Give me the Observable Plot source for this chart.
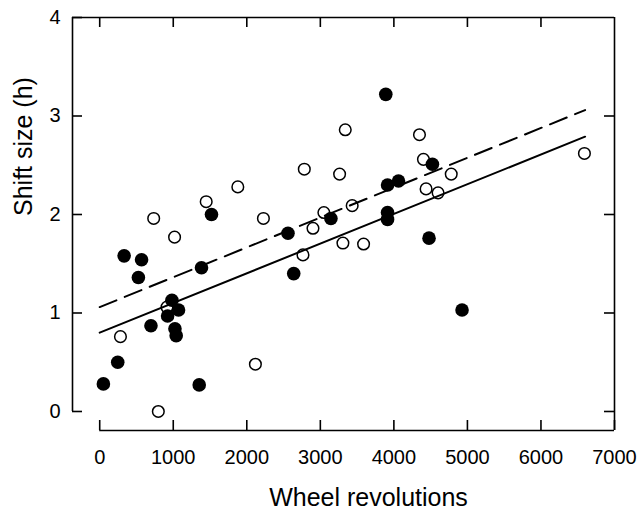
<!DOCTYPE html>
<html>
<head>
<meta charset="utf-8">
<script src="https://cdn.jsdelivr.net/npm/d3@7"></script>
<script src="https://cdn.jsdelivr.net/npm/@observablehq/plot@0.6"></script>
<style>
  html, body { margin: 0; padding: 0; background: #fff; }
  #chart svg { display: block; }
</style>
</head>
<body>
<div id="chart"></div>
<script>
// Filled circles
const filledX = [50, 245, 332, 526, 569, 697, 923, 982, 1072, 1023, 1040, 1353, 1384, 1520, 2560, 2638, 3144, 3890, 3914, 4063, 3914, 3914, 4478, 4524, 4927];
const filledY = [0.28, 0.50, 1.58, 1.36, 1.54, 0.87, 0.97, 1.13, 1.03, 0.84, 0.77, 0.27, 1.46, 2.00, 1.81, 1.40, 1.96, 3.22, 2.30, 2.34, 2.02, 1.95, 1.76, 2.51, 1.03];
// Open circles
const openX = [282, 797, 734, 1018, 915, 1448, 1878, 2226, 2117, 2782, 2764, 2900, 3048, 3339, 3262, 3433, 3307, 3588, 4348, 4402, 4438, 4601, 4780, 6591];
const openY = [0.76, 0.00, 1.96, 1.77, 1.06, 2.13, 2.28, 1.96, 0.48, 2.46, 1.59, 1.86, 2.02, 2.86, 2.41, 2.09, 1.71, 1.70, 2.81, 2.56, 2.26, 2.22, 2.41, 2.62];
// Regression lines
const lineX = [0, 6600];
const solidY = [0.80, 2.79];
const dashedY = [1.06, 3.06];
// Ticks
const xTicks = [0, 1000, 2000, 3000, 4000, 5000, 6000, 7000];
const topTicks = [0, 1000, 2000, 3000, 4000, 5000, 6000];
const yTicks = [0, 1, 2, 3, 4];
const rightTicks = [0, 1, 2, 3];
const xTitle = "Wheel revolutions";
const yTitle = "Shift size (h)";
// Frame extents (detached axes)
const xLo = -370, xHi = 7000;
const yLo = -0.193, yHi = 4;

const filled = filledX.map((x, i) => ({x, y: filledY[i]}));
const open = openX.map((x, i) => ({x, y: openY[i]}));
const solid = lineX.map((x, i) => ({x, y: solidY[i]}));
const dashed = lineX.map((x, i) => ({x, y: dashedY[i]}));

const sw = 1.6;
const chart = Plot.plot({
  width: 642,
  height: 514,
  marginLeft: 72,
  marginRight: 28,
  marginTop: 17,
  marginBottom: 84,
  style: {fontFamily: "'Liberation Sans', Arial, Helvetica, sans-serif", color: "black", background: "white"},
  x: {domain: [xLo, xHi]},
  y: {domain: [yLo, yHi]},
  marks: [
    // frame pieces
    Plot.ruleY([yHi], {x1: xLo, x2: xHi, stroke: "black", strokeWidth: sw}),
    Plot.ruleX([xHi], {y1: yLo, y2: yHi, stroke: "black", strokeWidth: sw}),
    Plot.ruleX([xLo], {y1: 0, y2: yHi, stroke: "black", strokeWidth: sw}),
    Plot.ruleY([yLo], {x1: 0, x2: xHi, stroke: "black", strokeWidth: sw}),
    // inward ticks
    Plot.ruleX(xTicks, {x: d => d, y1: yLo, y2: yLo, insetTop: -10, stroke: "black", strokeWidth: sw}),
    Plot.ruleX(topTicks, {x: d => d, y1: yHi, y2: yHi, insetBottom: -10, stroke: "black", strokeWidth: sw}),
    Plot.ruleY(yTicks, {y: d => d, x1: xLo, x2: xLo, insetRight: -10, stroke: "black", strokeWidth: sw}),
    Plot.ruleY(rightTicks, {y: d => d, x1: xHi, x2: xHi, insetLeft: -10, stroke: "black", strokeWidth: sw}),
    // tick labels
    Plot.axisX(xTicks, {anchor: "bottom", tickSize: 0, tickPadding: 19, fontSize: 20, label: null, tickFormat: d => String(d)}),
    Plot.axisY(yTicks, {anchor: "left", tickSize: 0, tickPadding: 12, fontSize: 20, label: null, tickFormat: d => String(d)}),
    // axis titles
    Plot.text([xTitle], {frameAnchor: "bottom", dx: 25, dy: 75, fontSize: 25, fill: "black"}),
    Plot.text([yTitle], {frameAnchor: "left", rotate: -90, dx: -49, dy: -8, fontSize: 25, fill: "black"}),
    // regression lines
    Plot.line(dashed, {x: "x", y: "y", stroke: "black", strokeWidth: 2, strokeDasharray: "18,9"}),
    Plot.line(solid, {x: "x", y: "y", stroke: "black", strokeWidth: 2}),
    // data
    Plot.dot(open, {x: "x", y: "y", r: 5.8, stroke: "black", strokeWidth: 1.5, fill: "none"}),
    Plot.dot(filled, {x: "x", y: "y", r: 6.8, fill: "black", stroke: "none"})
  ]
});
document.getElementById("chart").appendChild(chart);
</script>
</body>
</html>
